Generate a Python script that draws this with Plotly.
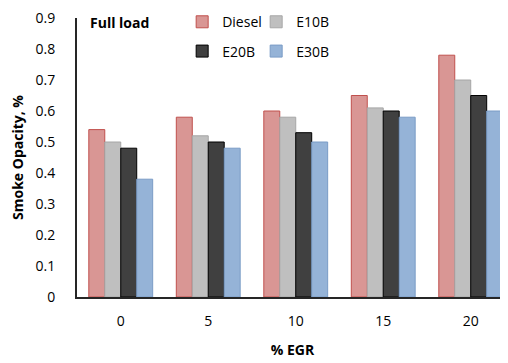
import plotly.graph_objects as go

categories = ["0", "5", "10", "15", "20"]
diesel = [0.54, 0.58, 0.60, 0.65, 0.78]
e10b = [0.50, 0.52, 0.58, 0.61, 0.70]
e20b = [0.48, 0.50, 0.53, 0.60, 0.65]
e30b = [0.38, 0.48, 0.50, 0.58, 0.60]
y_ticks = [0, 0.1, 0.2, 0.3, 0.4, 0.5, 0.6, 0.7, 0.8, 0.9]

series = [
    ("Diesel", diesel, "#D99694", "#C0504D", "legend"),
    ("E10B", e10b, "#BFBFBF", "#A6A6A6", "legend"),
    ("E20B", e20b, "#404040", "#000000", "legend2"),
    ("E30B", e30b, "#95B3D7", "#7A9CC6", "legend2"),
]

FONT = "Open Sans"
fig = go.Figure()
for name, vals, fill, line, lg in series:
    fig.add_trace(go.Bar(
        x=categories, y=vals, name=name, legend=lg,
        marker=dict(color=fill, line=dict(color=line, width=1)),
    ))

LEG_X = 0.244
fig.update_layout(
    width=500, height=355,
    margin=dict(l=69, r=0, t=10, b=66, autoexpand=False),
    plot_bgcolor="white", paper_bgcolor="white",
    barmode="group", bargap=0.27, bargroupgap=0,
    font=dict(family=FONT, size=14, color="black"),
    showlegend=True,
    legend=dict(orientation="h", x=LEG_X, y=0.985, xanchor="left", yanchor="middle",
                entrywidth=29, bgcolor="rgba(0,0,0,0)", font=dict(size=14),
                itemwidth=30, tracegroupgap=0),
    legend2=dict(orientation="h", x=LEG_X, y=0.88, xanchor="left", yanchor="middle",
                 entrywidth=29, bgcolor="rgba(0,0,0,0)", font=dict(size=14),
                 itemwidth=30, tracegroupgap=0),
    xaxis=dict(
        type="category", range=[-0.5, 4.426], automargin=False,
        showline=True, linecolor="#262626", linewidth=2,
        ticks="", showgrid=False, ticklabeloverflow="allow",
        tickfont=dict(size=14), ticklabelstandoff=10,
        title=dict(text="<b>% EGR</b>", font=dict(size=14), standoff=16),
    ),
    yaxis=dict(
        range=[0, 0.9], tickvals=y_ticks, ticktext=[f"{v:g}" for v in y_ticks],
        automargin=False, ticklabeloverflow="allow",
        showline=True, linecolor="#262626", linewidth=2,
        ticks="", showgrid=False, zeroline=False,
        tickfont=dict(size=14), ticklabelstandoff=17,
        title=dict(text="<b>Smoke Opacity, %</b>", font=dict(size=14), standoff=24),
    ),
    annotations=[dict(
        text="<b>Full load</b>", xref="paper", yref="paper",
        x=0.025, y=0.985, xanchor="left", yanchor="middle", showarrow=False,
        font=dict(size=14),
    )],
)

fig.write_html("out.html")
